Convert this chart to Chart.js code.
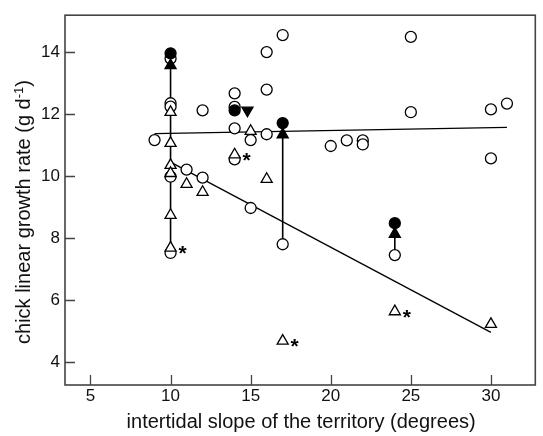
<!DOCTYPE html>
<html>
<head>
<meta charset="utf-8">
<script src="https://cdn.jsdelivr.net/npm/chart.js@4/dist/chart.umd.min.js"></script>
<style>
  html, body { margin: 0; padding: 0; background: #fff; }
  #wrap { width: 543px; height: 436px; }
</style>
</head>
<body>
<div id="wrap"><canvas id="chart" width="543" height="436"></canvas></div>
<script>
const xTicks = [5, 10, 15, 20, 25, 30];
const yTicks = [4, 6, 8, 10, 12, 14];

// open circles
const openCircleX = [9, 10, 10, 10, 10, 10, 11, 12, 12, 14, 14, 14, 14, 15, 15, 16, 16, 16, 17, 17, 20, 21, 22, 22, 24, 25, 25, 30, 30, 31];
const openCircleY = [11.17, 13.8, 12.36, 12.25, 9.99, 7.53, 10.22, 12.13, 9.96, 12.68, 12.24, 11.55, 10.55, 11.17, 8.98, 14.01, 12.8, 11.36, 14.56, 7.81, 10.98, 11.16, 11.16, 11.03, 7.46, 14.5, 12.07, 12.16, 10.58, 12.35];

// open triangles
const openTriX = [10, 10, 10, 10, 10, 10, 11, 12, 14, 15, 16, 17, 24, 30];
const openTriY = [12.07, 11.07, 10.36, 10.1, 8.75, 7.69, 9.75, 9.49, 10.7, 11.46, 9.91, 4.69, 5.64, 5.23];

// filled symbols
const filledCircleX = [10, 14, 17, 24];
const filledCircleY = [13.97, 12.13, 11.72, 8.49];
const filledTriX = [10, 17, 24];
const filledTriY = [13.58, 11.35, 8.14];
const filledDownX = [14.8];
const filledDownY = [12.13];

// vertical connectors (x, from, to)
const linkX = [10, 17, 24];
const linkFrom = [7.53, 7.81, 7.46];
const linkTo = [13.58, 11.35, 8.14];

// fitted lines
const flatLineX = [9, 31];
const flatLineY = [11.38, 11.58];
const slopeLineX = [10, 30];
const slopeLineY = [10.46, 4.97];

// points marked with *
const starX = [10, 14, 17, 24];
const starY = [7.69, 10.7, 4.69, 5.64];

const pts = (xs, ys) => xs.map((x, i) => ({ x: x, y: ys[i] }));

const FONT = "'Liberation Sans', Arial, sans-serif";

const sym = (data, style, filled, r, order, rot) => ({
  type: 'scatter',
  data: data,
  pointStyle: style,
  pointRadius: r,
  pointRotation: rot || 0,
  borderWidth: 1.3,
  borderColor: '#000',
  backgroundColor: filled ? '#000' : '#fff',
  showLine: false,
  order: order
});

const lineSet = (data, width, order) => ({
  type: 'line',
  data: data,
  borderColor: '#000',
  borderWidth: width,
  pointRadius: 0,
  fill: false,
  tension: 0,
  order: order
});

const datasets = [
  lineSet(pts(flatLineX, flatLineY), 1.3, 20),
  lineSet(pts(slopeLineX, slopeLineY), 1.3, 20),
  ...linkX.map((x, i) => lineSet([{ x: x, y: linkFrom[i] }, { x: x, y: linkTo[i] }], 1.6, 19)),
  sym(pts(openCircleX, openCircleY), 'circle', false, 5.5, 6),
  sym(pts(openTriX, openTriY), 'triangle', false, 6.4, 5),
  sym(pts(filledCircleX, filledCircleY), 'circle', true, 5.5, 2),
  sym(pts(filledTriX, filledTriY), 'triangle', true, 6.4, 1),
  sym(pts(filledDownX, filledDownY), 'triangle', true, 6.4, 1, 180)
];

const extras = {
  id: 'extras',
  afterDraw(chart) {
    const { ctx, chartArea: a, scales: { x, y } } = chart;
    ctx.save();
    // frame
    ctx.strokeStyle = '#444';
    ctx.lineWidth = 1.6;
    ctx.strokeRect(a.left, a.top, a.right - a.left, a.bottom - a.top);
    // inward ticks
    ctx.lineWidth = 1.3;
    ctx.beginPath();
    xTicks.forEach(v => {
      const px = Math.round(x.getPixelForValue(v)) + 0.5;
      ctx.moveTo(px, a.bottom);
      ctx.lineTo(px, a.bottom - 10);
    });
    yTicks.forEach(v => {
      const py = Math.round(y.getPixelForValue(v)) + 0.5;
      ctx.moveTo(a.left, py);
      ctx.lineTo(a.left + 10, py);
    });
    ctx.stroke();

    // asterisks
    ctx.fillStyle = '#000';
    ctx.font = 'bold 21px ' + FONT;
    ctx.textAlign = 'center';
    ctx.textBaseline = 'alphabetic';
    starX.forEach((v, i) => {
      ctx.fillText('*', x.getPixelForValue(v) + 12, y.getPixelForValue(starY[i]) + 12);
    });

    // x title
    ctx.fillStyle = '#111';
    ctx.font = '20px ' + FONT;
    ctx.textAlign = 'center';
    ctx.fillText('intertidal slope of the territory (degrees)', (a.left + a.right) / 2 + 1, 428);

    // y title with superscript
    const main = 'chick linear growth rate (g d';
    ctx.font = '20px ' + FONT;
    const w1 = ctx.measureText(main).width;
    const w3 = ctx.measureText(')').width;
    ctx.font = '13px ' + FONT;
    const w2 = ctx.measureText('-1').width;
    const total = w1 + w2 + w3;
    ctx.translate(30, 212);
    ctx.rotate(-Math.PI / 2);
    ctx.textAlign = 'left';
    let sx = -total / 2;
    ctx.font = '20px ' + FONT;
    ctx.fillText(main, sx, 0);
    sx += w1;
    ctx.font = '13px ' + FONT;
    ctx.fillText('-1', sx, -7);
    sx += w2;
    ctx.font = '20px ' + FONT;
    ctx.fillText(')', sx, 0);
    ctx.restore();
  }
};

new Chart(document.getElementById('chart'), {
  type: 'scatter',
  data: { datasets: datasets },
  options: {
    responsive: false,
    animation: false,
    layout: { padding: { top: 8, right: 3, left: 0, bottom: 0 } },
    plugins: { legend: { display: false }, tooltip: { enabled: false } },
    scales: {
      x: {
        type: 'linear',
        min: 3.41,
        max: 32.77,
        afterBuildTicks: s => { s.ticks = xTicks.map(v => ({ value: v })); },
        afterFit: s => { s.height = 51; },
        grid: { display: false, drawTicks: false },
        border: { display: false },
        ticks: { color: '#111', font: { family: FONT, size: 17 }, padding: 1, maxRotation: 0 }
      },
      y: {
        type: 'linear',
        min: 3.27,
        max: 15.2,
        afterBuildTicks: s => { s.ticks = yTicks.map(v => ({ value: v })); },
        afterFit: s => { s.width = 65; },
        grid: { display: false, drawTicks: false },
        border: { display: false },
        ticks: { color: '#111', font: { family: FONT, size: 17 }, padding: 5 }
      }
    }
  },
  plugins: [extras]
});
</script>
</body>
</html>
